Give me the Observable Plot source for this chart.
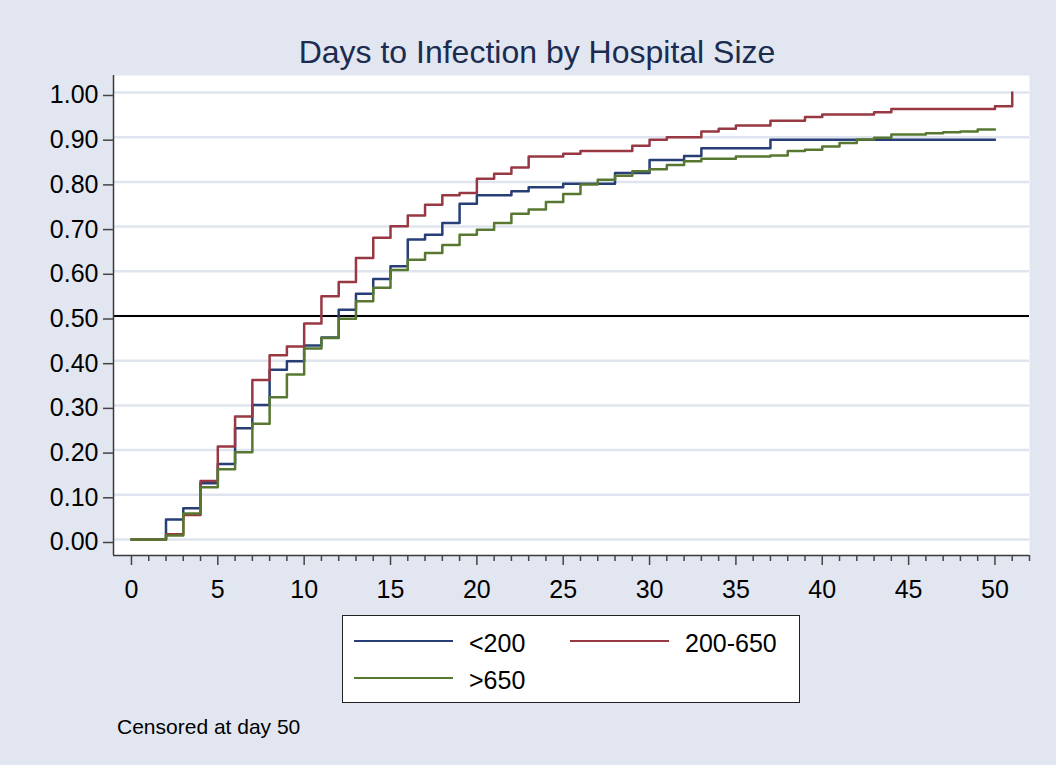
<!DOCTYPE html>
<html>
<head>
<meta charset="utf-8">
<script src="https://cdn.jsdelivr.net/npm/d3@7"></script>
<script src="https://cdn.jsdelivr.net/npm/@observablehq/plot@0.6"></script>
<style>
  html, body { margin: 0; padding: 0; background: #e1e6f0; }
  #wrap { position: relative; width: 1056px; height: 765px; background: #e1e6f0;
          font-family: "Liberation Sans", Arial, sans-serif; overflow: hidden; }
  #title { position: absolute; left: 0; width: 1074px; top: 35.6px; text-align: center;
           font-size: 32px; line-height: 32px; color: #1c2b50; white-space: nowrap; }
  #chart { position: absolute; left: 0; top: 70px; }
  #legend { position: absolute; left: 342px; top: 615px; width: 456px; height: 86px;
            background: #fff; border: 1px solid #222; }
  .lg-line { position: absolute; height: 2.5px; width: 99px; }
  .lg-text { position: absolute; font-size: 25px; line-height: 25px; color: #000; white-space: nowrap; }
  #caption { position: absolute; left: 117px; top: 716px; font-size: 21px; line-height: 21px; color: #000; white-space: nowrap; }
</style>
</head>
<body>
<div id="wrap">
  <div id="title">Days to Infection by Hospital Size</div>
  <div id="chart"></div>
  <div id="legend"></div>
  <div id="caption">Censored at day 50</div>
</div>
<script>
// ---------------- DATA ----------------
const days = [0,1,2,3,4,5,6,7,8,9,10,11,12,13,14,15,16,17,18,19,20,21,22,23,24,25,
              26,27,28,29,30,31,32,33,34,35,36,37,38,39,40,41,42,43,44,45,46,47,48,49,50,51];

const seriesNames = ["<200", "200-650", ">650"];
const seriesColors = ["#273f76", "#983842", "#587831"];

// failure probability (1 - KM) at each day, for hospital size < 200
const lt200 = [0,0,0.045,0.070,0.126,0.169,0.249,0.301,0.380,0.399,0.434,0.452,0.514,0.550,0.583,0.611,
               0.671,0.682,0.708,0.751,0.770,0.770,0.779,0.788,0.788,0.796,0.796,0.796,0.820,0.820,
               0.849,0.849,0.858,0.875,0.875,0.875,0.875,0.894,0.894,0.894,0.894,0.894,0.894,0.894,
               0.894,0.894,0.894,0.894,0.894,0.894,0.894,null];

// hospital size 200-650
const mid = [0,0,0.012,0.055,0.131,0.208,0.275,0.357,0.412,0.432,0.483,0.544,0.576,0.630,0.675,0.701,
             0.725,0.749,0.770,0.775,0.807,0.818,0.832,0.857,0.857,0.863,0.869,0.869,0.869,0.881,
             0.894,0.900,0.900,0.913,0.919,0.926,0.926,0.937,0.937,0.945,0.951,0.951,0.951,0.956,
             0.963,0.963,0.963,0.963,0.963,0.963,0.969,1.000];

// hospital size > 650
const gt650 = [0,0,0.009,0.058,0.117,0.157,0.195,0.259,0.318,0.369,0.427,0.451,0.494,0.533,0.563,0.603,
               0.626,0.641,0.659,0.682,0.693,0.708,0.729,0.738,0.755,0.773,0.794,0.805,0.814,0.824,
               0.828,0.838,0.846,0.852,0.852,0.857,0.857,0.859,0.869,0.872,0.879,0.887,0.895,0.899,
               0.906,0.906,0.909,0.911,0.913,0.917,0.917,null];

const refLine = [0.5];

const yTicks = [0,0.1,0.2,0.3,0.4,0.5,0.6,0.7,0.8,0.9,1.0];
const xTicks = [0,5,10,15,20,25,30,35,40,45,50];
const xMinorTicks = [1,2,3,4,6,7,8,9,11,12,13,14,16,17,18,19,21,22,23,24,26,27,28,29,
                     31,32,33,34,36,37,38,39,41,42,43,44,46,47,48,49,51,52];

const xDomain = [-1.04, 52.0];
const yDomain = [-0.0358, 1.038];

// ---------------- BUILD ----------------
const seriesValues = [lt200, mid, gt650];
const rows = [];
seriesNames.forEach((name, i) => {
  seriesValues[i].forEach((v, k) => {
    if (v != null) rows.push({day: days[k], value: v, group: name});
  });
});

const axisColor = "#3a3a3a";

const chart = Plot.plot({
  width: 1056,
  height: 535,
  marginLeft: 113,
  marginRight: 27,
  marginTop: 5,
  marginBottom: 50,
  style: {background: "transparent", fontFamily: "'Liberation Sans', Arial, sans-serif",
          fontSize: "25px", color: "#000", overflow: "visible"},
  x: {domain: xDomain},
  y: {domain: yDomain},
  color: {domain: seriesNames, range: seriesColors},
  marks: [
    Plot.frame({fill: "white", stroke: "none"}),
    Plot.gridY(yTicks, {stroke: "#dfe4ee", strokeOpacity: 1, strokeWidth: 2.5}),
    Plot.ruleY(refLine, {stroke: "#000", strokeWidth: 2}),
    Plot.line(rows, {x: "day", y: "value", z: "group", stroke: "group",
                     curve: "step-after", strokeWidth: 2.5}),
    Plot.ruleX([xDomain[0]], {stroke: axisColor, strokeWidth: 1.5}),
    Plot.ruleY([yDomain[0]], {stroke: axisColor, strokeWidth: 1.5}),
    Plot.axisY(yTicks, {tickSize: 10, tickPadding: 5, tickFormat: d3.format(".2f"),
                        dy: 3, stroke: "#444", strokeWidth: 1.5, fill: "#000", label: null}),
    Plot.axisX(xTicks, {tickSize: 10, tickPadding: 15, tickFormat: d3.format("d"),
                        stroke: "#444", strokeWidth: 1.5, fill: "#000", label: null}),
    Plot.axisX(xMinorTicks, {tickSize: 6, tickFormat: () => "", stroke: "#444",
                             strokeWidth: 1.5, label: null})
  ]
});
document.getElementById("chart").appendChild(chart);

// ---------------- LEGEND ----------------
const legend = document.getElementById("legend");
// legend slots (relative to the legend box): two columns, two rows
const slots = [{lx: 11, tx: 126, row: 0}, {lx: 227, tx: 342, row: 1 - 1 + 0}, {lx: 11, tx: 126, row: 1}];
slots[1].row = 0;
const rowLineY = [25, 62];
const rowTextTop = [15, 52];
seriesNames.forEach((name, i) => {
  const s = slots[i];
  const ln = document.createElement("div");
  ln.className = "lg-line";
  ln.style.left = s.lx + "px";
  ln.style.top = (rowLineY[s.row] - 1.25) + "px";
  ln.style.background = seriesColors[i];
  legend.appendChild(ln);
  const tx = document.createElement("div");
  tx.className = "lg-text";
  tx.style.left = s.tx + "px";
  tx.style.top = rowTextTop[s.row] + "px";
  tx.textContent = name;
  legend.appendChild(tx);
});
</script>
</body>
</html>
